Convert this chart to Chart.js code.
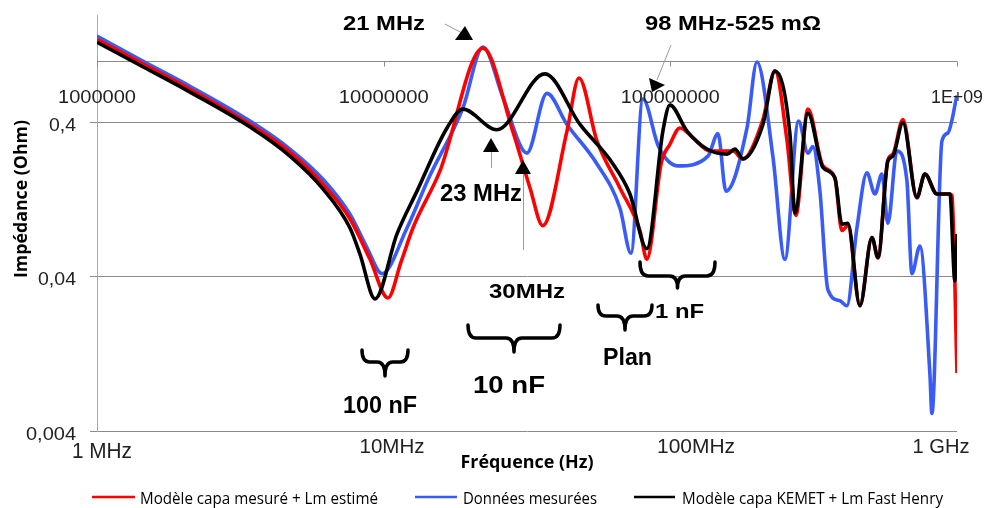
<!DOCTYPE html>
<html>
<head>
<meta charset="utf-8">
<script src="https://cdn.jsdelivr.net/npm/chart.js@4.4.1/dist/chart.umd.min.js"></script>
<style>
  html, body { margin: 0; padding: 0; background: #fff; }
  #wrap { width: 985px; height: 508px; }
</style>
</head>
<body>
<div id="wrap"><canvas id="chart" width="985" height="508"></canvas></div>
<script>
// Fréquences en MHz, impédances en Ohm
const mesureFreq = [1.0, 1.45, 2.11, 3.42, 4.71, 6.14, 7.63, 8.96, 10.35, 11.5, 12.65, 15.72, 22.2, 28.2, 32.4, 35.9, 43.6, 48.0, 55.5, 66.7, 78.3, 82.8, 93, 99.7, 108, 119.9, 137.5, 165.3, 179.1, 210.4, 231.7, 255.1, 274, 302, 340.6, 375, 396.7, 416.3, 458.5, 505, 530, 574, 597.6, 647.6, 724.6, 772.7, 851, 945, 960, 1000];
const mesureZ = [1.39, 0.96, 0.66, 0.39, 0.258, 0.16, 0.095, 0.052, 0.0292, 0.05, 0.083, 0.195, 1.22, 0.353, 0.151, 0.086, 0.353, 0.78, 0.304, 0.151, 0.08, 0.052, 0.22, 0.29, 0.37, 0.32, 0.262, 0.262, 0.233, 0.42, 0.87, 0.31, 0.1, 0.49, 0.21, 0.175, 0.08, 0.086, 0.026, 0.072, 0.053, 0.23, 0.25, 0.42, 0.13, 0.186, 0.138, 0.138, 0.135, 0.0095];

const donneesFreq = [1.0, 1.45, 2.11, 3.42, 4.71, 6.14, 7.63, 8.74, 9.87, 12.06, 14.3, 18.91, 22.2, 26.1, 31.6, 37.1, 43.6, 55.5, 66.7, 72.9, 80.2, 91, 106.3, 135.3, 146.6, 156.3, 185.1, 200.5, 228, 251, 280, 302, 314.4, 332.5, 354.5, 390.4, 413, 447.6, 485, 517.3, 547, 574.1, 617.2, 668.8, 696.2, 742.3, 804.4, 817.4, 886, 929, 1000];
const donneesZ = [1.46, 1.0, 0.69, 0.41, 0.27, 0.172, 0.102, 0.062, 0.042, 0.083, 0.172, 0.5, 1.24, 0.58, 0.254, 0.62, 0.39, 0.216, 0.112, 0.057, 0.57, 0.28, 0.21, 0.243, 0.34, 0.144, 0.37, 0.99, 0.24, 0.052, 0.41, 0.254, 0.28, 0.144, 0.033, 0.028, 0.026, 0.083, 0.189, 0.138, 0.186, 0.089, 0.262, 0.168, 0.042, 0.0635, 0.0094, 0.0052, 0.304, 0.343, 0.6];

const kemetFreq = [1.0, 1.45, 2.11, 3.42, 4.71, 6.14, 7.63, 8.27, 9.33, 11.13, 13.07, 16.63, 18.91, 24.8, 36.5, 48.4, 63.1, 72.3, 82.8, 94.2, 99.7, 114.3, 134.2, 157.6, 168, 179.1, 210.4, 231.7, 261.3, 272, 302, 340.6, 375, 396.7, 416.3, 458.5, 505, 530, 574.1, 597.6, 647.6, 724.6, 772.7, 851, 945, 983, 1000];
const kemetZ = [1.33, 0.92, 0.632, 0.375, 0.243, 0.149, 0.083, 0.056, 0.0288, 0.076, 0.144, 0.37, 0.49, 0.36, 0.83, 0.39, 0.216, 0.138, 0.061, 0.353, 0.52, 0.353, 0.27, 0.25, 0.27, 0.233, 0.39, 0.865, 0.338, 0.104, 0.46, 0.205, 0.176, 0.088, 0.089, 0.026, 0.072, 0.0535, 0.226, 0.243, 0.4, 0.131, 0.186, 0.138, 0.138, 0.0377, 0.076];

const yTicks = [0.004, 0.04, 0.4];
const yTickLabels = ['0,004', '0,04', '0,4'];
const hzTicks = [1, 10, 100, 1000];
const hzTickLabels = ['1000000', '10000000', '100000000', '1E+09'];
const freqLabels = ['1 MHz', '10MHz', '100MHz', '1 GHz'];

const seriesNames = ['Modèle capa mesuré + Lm estimé', 'Données mesurées', 'Modèle capa KEMET + Lm Fast Henry'];
const seriesColors = ['#ff0000', '#3a5cf6', '#000000'];

const toPoints = (fs, zs) => fs.map((f, i) => ({ x: f, y: zs[i] }));

// texte étiré horizontalement pour tenir dans une largeur donnée
function fitText(ctx, s, x, y, font, width, align = 'left') {
  ctx.save();
  ctx.font = font;
  const w = ctx.measureText(s).width;
  const sx = width ? width / w : 1;
  ctx.translate(x, y);
  ctx.scale(sx, 1);
  ctx.textAlign = align;
  ctx.textBaseline = 'alphabetic';
  ctx.fillText(s, 0, 0);
  ctx.restore();
}

function brace(ctx, x1, x2, yTop, yBar, yTip) {
  const xm = (x1 + x2) / 2;
  const r = Math.min(8, (x2 - x1) / 6);
  ctx.beginPath();
  ctx.moveTo(x1, yTop);
  ctx.quadraticCurveTo(x1, yBar, x1 + r, yBar);
  ctx.lineTo(xm - r, yBar);
  ctx.quadraticCurveTo(xm, yBar, xm, yTip);
  ctx.moveTo(x2, yTop);
  ctx.quadraticCurveTo(x2, yBar, x2 - r, yBar);
  ctx.lineTo(xm + r, yBar);
  ctx.quadraticCurveTo(xm, yBar, xm, yTip);
  ctx.stroke();
}

function tri(ctx, pts) {
  ctx.beginPath();
  ctx.moveTo(pts[0][0], pts[0][1]);
  ctx.lineTo(pts[1][0], pts[1][1]);
  ctx.lineTo(pts[2][0], pts[2][1]);
  ctx.closePath();
  ctx.fill();
}

function thin(ctx, x1, y1, x2, y2) {
  ctx.beginPath();
  ctx.moveTo(x1, y1);
  ctx.lineTo(x2, y2);
  ctx.stroke();
}

const axisLinePlugin = {
  id: 'axisLine',
  beforeDatasetsDraw(chart) {
    const { ctx, chartArea: a, scales: { x, y } } = chart;
    const yOne = Math.round(y.getPixelForValue(1)) + 0.5;
    ctx.save();
    ctx.strokeStyle = '#8a8a8a';
    ctx.lineWidth = 1;
    thin(ctx, a.left, yOne, a.right, yOne);
    hzTicks.forEach((f) => {
      const px = Math.round(x.getPixelForValue(f)) + 0.5;
      thin(ctx, px, yOne, px, yOne + 5);
    });
    ctx.restore();
  },
};

const decorPlugin = {
  id: 'decor',
  afterDraw(chart) {
    const { ctx, scales: { x, y } } = chart;
    const yOne = y.getPixelForValue(1);
    ctx.save();
    ctx.fillStyle = '#222';

    // étiquettes de l'axe croisant à 1 Ohm
    const hzWidths = [78, 90, 99, 52];
    hzTicks.forEach((f, i) => {
      fitText(ctx, hzTickLabels[i], x.getPixelForValue(f), yOne + 42, '18px "Liberation Sans"', hzWidths[i], 'center');
    });

    // étiquettes Y
    const yWidths = [50, 38, 27];
    yTicks.forEach((v, i) => {
      fitText(ctx, yTickLabels[i], 76, y.getPixelForValue(v) + (i === 0 ? 9 : 8), '18px "Liberation Sans"', yWidths[i], 'right');
    });

    // étiquettes de fréquence en bas
    const fl = [[102, 458, 22, 60], [392, 453, 20, 65], [696, 453, 20, 78], [941, 453, 20, 57]];
    freqLabels.forEach((s, i) => {
      const [cx, by, sz, w] = fl[i];
      fitText(ctx, s, cx, by, sz + 'px "Liberation Sans"', w, 'center');
    });

    // titres d'axes
    ctx.fillStyle = '#000';
    fitText(ctx, 'Fréquence (Hz)', 527, 468, 'bold 18px "Open Sans"', 133, 'center');
    ctx.save();
    ctx.translate(27, 199);
    ctx.rotate(-Math.PI / 2);
    fitText(ctx, 'Impédance (Ohm)', 0, 0, 'bold 18px "Open Sans"', 158, 'center');
    ctx.restore();

    // annotations
    const notes = [
      ['21 MHz', 343, 30, 21, 82],
      ['98 MHz-525 mΩ', 645, 30, 21, 176],
      ['23 MHz', 440, 201, 23, 82],
      ['30MHz', 489, 298, 21, 76],
      ['1 nF', 655, 318, 21, 49],
      ['Plan', 603, 365, 24, 49],
      ['10 nF', 473, 393, 23, 72],
      ['100 nF', 343, 413, 24, 74],
    ];
    notes.forEach(([s, lx, by, sz, w]) => fitText(ctx, s, lx, by, 'bold ' + sz + 'px "Liberation Sans"', w));

    // flèches
    ctx.strokeStyle = '#9a9a9a';
    ctx.lineWidth = 1;
    thin(ctx, 445, 24, 462, 33);
    thin(ctx, 671, 45, 657, 80);
    thin(ctx, 491.5, 152, 491.5, 168);
    thin(ctx, 523.5, 174, 523.5, 250);
    ctx.fillStyle = '#000';
    tri(ctx, [[455, 40], [473, 40], [465, 26]]);
    tri(ctx, [[649, 78], [665, 85], [652, 92]]);
    tri(ctx, [[483, 152], [499, 152], [491, 138]]);
    tri(ctx, [[515, 174], [531, 174], [523, 160]]);

    // accolades
    ctx.strokeStyle = '#000';
    ctx.lineWidth = 3.5;
    ctx.lineCap = 'round';
    brace(ctx, 362, 408, 350, 362, 376);
    brace(ctx, 468, 560, 325, 338, 352);
    brace(ctx, 598, 652, 305, 316, 330);
    brace(ctx, 640, 715, 262, 276, 288);

    // légende
    const leg = [[92, 135, 140, 238], [415, 457, 463, 134], [634, 675, 682, 261]];
    leg.forEach(([l1, l2, tx, w], i) => {
      ctx.strokeStyle = seriesColors[i];
      ctx.lineWidth = 2.5;
      ctx.lineCap = 'butt';
      thin(ctx, l1, 497, l2, 497);
      ctx.fillStyle = '#000';
      fitText(ctx, seriesNames[i], tx, 504, '17px "Open Sans"', w);
    });
    ctx.restore();
  },
};

const line = (i, fs, zs, order) => ({
  label: seriesNames[i],
  data: toPoints(fs, zs),
  borderColor: seriesColors[i],
  backgroundColor: seriesColors[i],
  borderWidth: 3.6,
  pointRadius: 0,
  cubicInterpolationMode: 'monotone',
  fill: false,
  order,
});

new Chart(document.getElementById('chart').getContext('2d'), {
  type: 'line',
  data: {
    datasets: [
      line(0, mesureFreq, mesureZ, 1),
      line(1, donneesFreq, donneesZ, 2),
      line(2, kemetFreq, kemetZ, 0),
    ],
  },
  options: {
    responsive: false,
    animation: false,
    devicePixelRatio: 1,
    layout: { padding: { left: 90, right: 28, top: 15, bottom: 77 } },
    plugins: { legend: { display: false }, tooltip: { enabled: false } },
    scales: {
      x: { type: 'logarithmic', min: 1, max: 1000, display: false },
      y: {
        type: 'logarithmic',
        min: 0.004,
        max: 2,
        afterBuildTicks: (s) => { s.ticks = yTicks.map((v) => ({ value: v })); },
        ticks: { display: false },
        grid: { color: '#8a8a8a', lineWidth: 1, drawTicks: true, tickLength: 7 },
        border: { display: true, color: '#a8a8a8', width: 1 },
      },
    },
  },
  plugins: [axisLinePlugin, decorPlugin],
});
</script>
</body>
</html>
